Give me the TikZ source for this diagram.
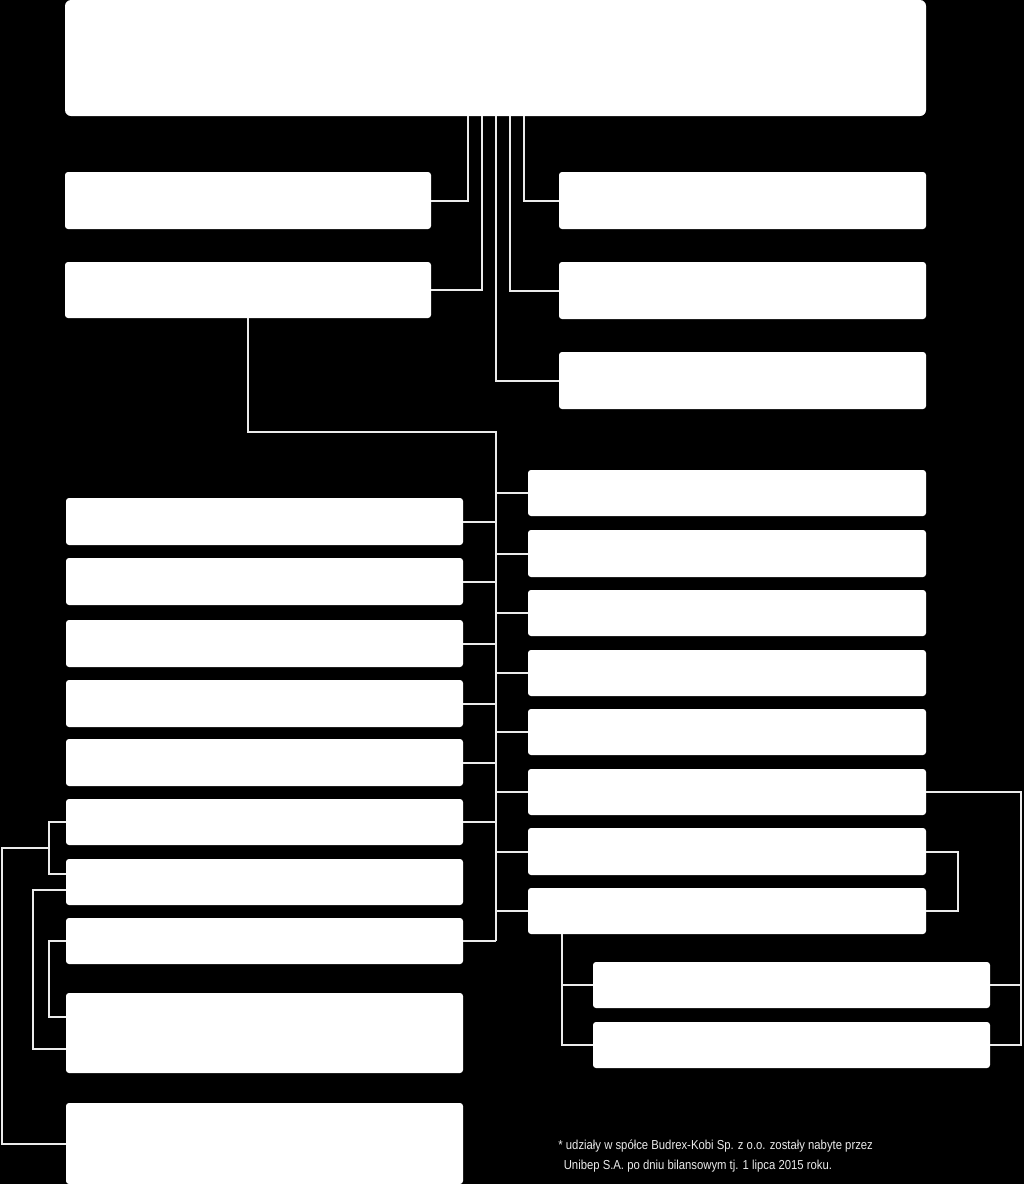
\documentclass[tikz,border=0pt]{standalone}
\usepackage{fontspec}
\usetikzlibrary{calc}
\newfontfamily\notefont[FakeStretch=0.87]{Liberation Sans}

\begin{document}
\begin{tikzpicture}
[x=0.5pt,y=-0.5pt,
  boxDecorate/.style={shape=rectangle,fill=white,rounded corners=1.5pt,inner sep=0pt},%
  lineDecorate/.style={-,draw=white!92!black,line width=1pt}]
%% background
\fill[black] (0,0) rectangle (1024,1184);
\useasboundingbox (0,0) rectangle (1024,1184);
%% nodes or boxes
\node (Parent) at (495.5,58) [boxDecorate,rounded corners=3pt,minimum width=430.5pt,minimum height=58pt] {};
\foreach \nodename/\x/\y/\w/\h in {UpL1/248/200.5/366/57, UpL2/248/290/366/56,
  UpR1/742.5/200.5/367/57, UpR2/742.5/290.5/367/57, UpR3/742.5/380.5/367/57,
  Lo1/264.5/521.5/397/47, Lo2/264.5/581.5/397/47, Lo3/264.5/643.5/397/47,
  Lo4/264.5/703.5/397/47, Lo5/264.5/762.5/397/47, Lo6/264.5/822/397/46,
  Lo7/264.5/882/397/46, Lo8/264.5/941/397/46, Lo9/264.5/1033/397/80,
  Lo10/264.5/1143.5/397/81,
  Ro1/727/493/398/46, Ro2/727/553.5/398/47, Ro3/727/613/398/46,
  Ro4/727/673/398/46, Ro5/727/732/398/46, Ro6/727/792/398/46,
  Ro7/727/851.5/398/47, Ro8/727/911/398/46,
  Sub1/791.5/985/397/46, Sub2/791.5/1045/397/46}
{
  \node (\nodename) at (\x,\y) [boxDecorate,minimum width=\w*0.5pt,minimum height=\h*0.5pt] {};
}
%% footnote
\node (note) at (558,1140) [anchor=north west,align=left,inner sep=0pt,text=white!92!black,
  font=\notefont\fontsize{6.5pt}{10pt}\selectfont]
  {* udziały w spółce Budrex-Kobi Sp. z o.o. zostały nabyte przez\\
   \hspace*{2.7pt}Unibep S.A. po dniu bilansowym tj. 1 lipca 2015 roku.};
%% edges or lines
\coordinate (spineTop) at (496,432);
\coordinate (leftJoin) at (49,848);
\coordinate (rightBus) at (1021,0);
\coordinate (roFoot) at ($(Ro8.south west)+(34,0)$);
\begin{scope}[lineDecorate]
\draw (UpL1.east) -| ($(Parent.south)+(-28,0)$);
\draw (UpL2.east) -| ($(Parent.south)+(-14,0)$);
\draw (UpR3.west) -| (Parent.south);
\draw (UpR2.west) -| ($(Parent.south)+(14,0)$);
\draw (UpR1.west) -| ($(Parent.south)+(28,0)$);
\draw (UpL2.south) |- (spineTop) -- (spineTop |- Lo8.east);
\foreach \n in {1,...,6,8}
  \draw (Lo\n.east) -- (Lo\n.east -| spineTop);
\foreach \n in {1,...,8}
  \draw (spineTop |- Ro\n.west) -- (Ro\n.west);
\draw (Ro6.east) -| (rightBus |- Sub2.east) -- (Sub2.east);
\draw (Sub1.east) -- (Sub1.east -| rightBus);
\draw (Ro7.east) -- ++(32,0) |- (Ro8.east);
\draw (roFoot) |- (Sub2.west);
\draw (Sub1.west) -- (Sub1.west -| roFoot);
\draw (Lo6.west) -| ($(Lo7.west)+(-17,-8)$) -- ($(Lo7.west)+(0,-8)$);
\draw (leftJoin) -- ++(-47,0) |- (Lo10.west);
\draw ($(Lo7.west)+(0,8)$) -- ++(-33,0) |- ($(Lo9.west)+(0,16)$);
\draw (Lo8.west) -- ++(-17,0) |- ($(Lo9.west)+(0,-16)$);
\end{scope}
\end{tikzpicture}
\end{document}
